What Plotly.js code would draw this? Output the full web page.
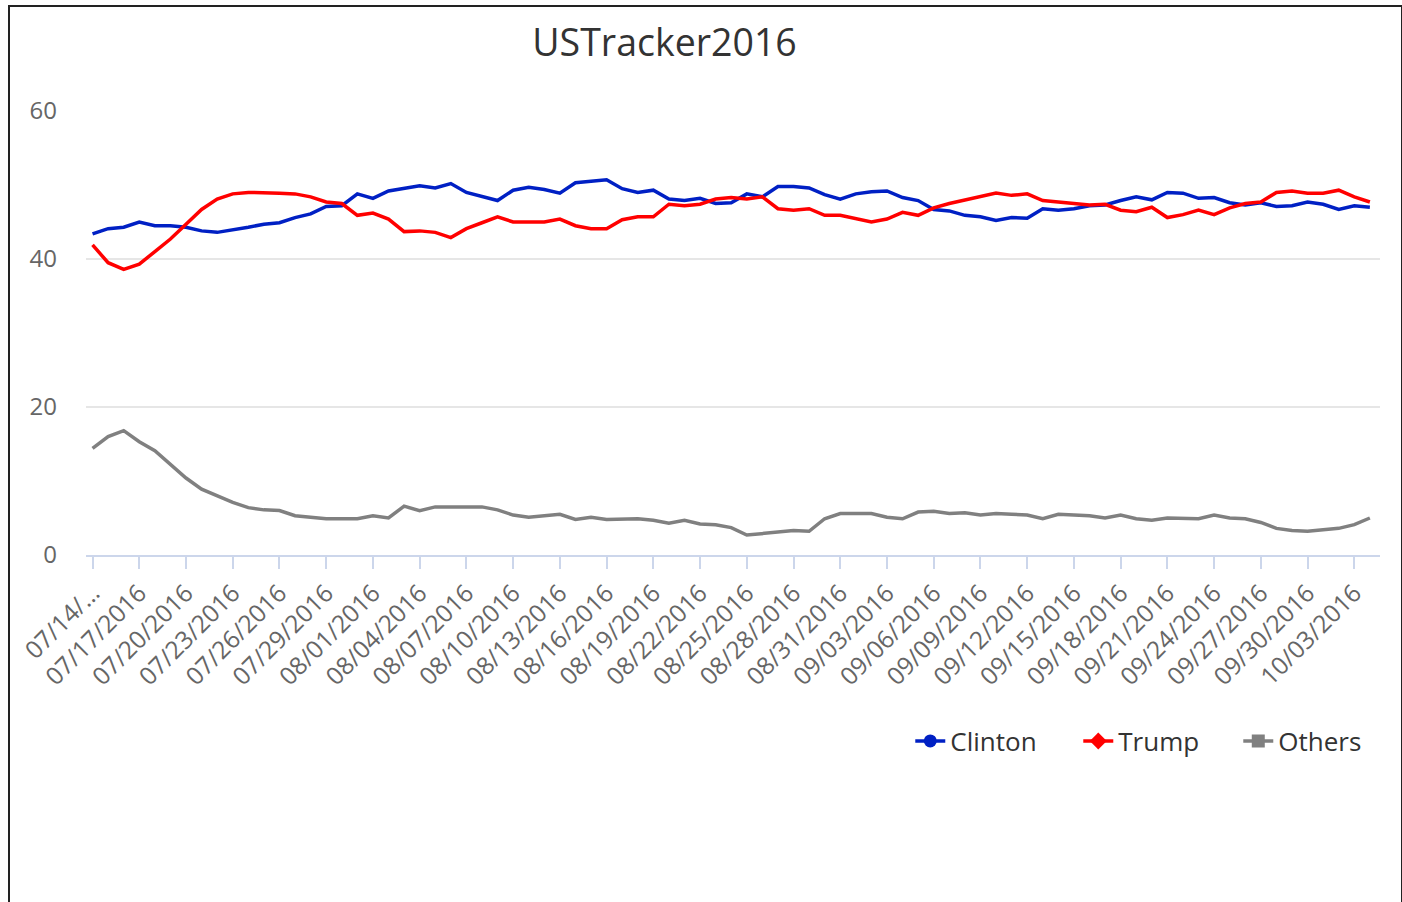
<!DOCTYPE html>
<html>
<head>
<meta charset="utf-8">
<script src="https://cdn.plot.ly/plotly-3.0.1.min.js"></script>
<style>
  html, body { margin: 0; padding: 0; background: #fff; }
  #chart { position: absolute; left: 0; top: 0; width: 1402px; height: 902px; }
  #frame { position: absolute; left: 8px; top: 5px; width: 1391px; height: 900px;
           border-top: 2px solid #222; border-left: 2px solid #222; border-right: 2px solid #222;
           pointer-events: none; }
</style>
</head>
<body>
<div id="chart"></div>
<div id="frame"></div>
<script>
const dates = [
  "07/14/2016","07/15/2016","07/16/2016","07/17/2016","07/18/2016","07/19/2016","07/20/2016","07/21/2016","07/22/2016","07/23/2016",
  "07/24/2016","07/25/2016","07/26/2016","07/27/2016","07/28/2016","07/29/2016","07/30/2016","07/31/2016",
  "08/01/2016","08/02/2016","08/03/2016","08/04/2016","08/05/2016","08/06/2016","08/07/2016","08/08/2016","08/09/2016","08/10/2016",
  "08/11/2016","08/12/2016","08/13/2016","08/14/2016","08/15/2016","08/16/2016","08/17/2016","08/18/2016","08/19/2016","08/20/2016",
  "08/21/2016","08/22/2016","08/23/2016","08/24/2016","08/25/2016","08/26/2016","08/27/2016","08/28/2016","08/29/2016","08/30/2016","08/31/2016",
  "09/01/2016","09/02/2016","09/03/2016","09/04/2016","09/05/2016","09/06/2016","09/07/2016","09/08/2016","09/09/2016","09/10/2016",
  "09/11/2016","09/12/2016","09/13/2016","09/14/2016","09/15/2016","09/16/2016","09/17/2016","09/18/2016","09/19/2016","09/20/2016",
  "09/21/2016","09/22/2016","09/23/2016","09/24/2016","09/25/2016","09/26/2016","09/27/2016","09/28/2016","09/29/2016","09/30/2016",
  "10/01/2016","10/02/2016","10/03/2016","10/04/2016"
];

const clinton = [
  43.4,44.1,44.3,45.0,44.5,44.5,44.3,43.8,43.6,43.9,
  44.3,44.7,44.9,45.6,46.1,47.1,47.2,48.8,48.2,49.2,
  49.5,49.9,49.6,50.2,49.0,48.4,47.9,49.3,49.7,49.4,
  48.9,50.3,50.5,50.7,49.5,49.0,49.3,48.1,47.9,48.2,
  47.5,47.6,48.8,48.4,49.8,49.8,49.6,48.7,48.1,48.8,
  49.1,49.2,48.3,47.9,46.7,46.5,45.9,45.7,45.2,45.6,
  45.5,46.8,46.6,46.8,47.2,47.3,47.9,48.4,48.0,49.0,
  48.9,48.2,48.3,47.6,47.3,47.6,47.1,47.2,47.7,47.4,
  46.7,47.2,47.0
];

const trump = [
  41.9,39.5,38.6,39.3,41.0,42.7,44.7,46.7,48.1,48.8,
  49.0,49.0,48.9,48.8,48.4,47.7,47.5,45.9,46.2,45.4,
  43.7,43.8,43.6,42.9,44.1,44.9,45.7,45.0,45.0,45.0,
  45.4,44.5,44.1,44.1,45.3,45.7,45.7,47.4,47.2,47.4,
  48.1,48.3,48.1,48.4,46.8,46.6,46.8,45.9,45.9,45.4,
  45.0,45.4,46.3,45.9,46.9,47.5,48.0,48.4,48.9,48.6,
  48.8,47.9,47.7,47.6,47.3,47.4,46.6,46.4,47.0,45.6,
  46.0,46.6,46.0,46.9,47.5,47.7,49.0,49.2,48.9,48.9,
  49.3,48.4,47.7
];

const others = [
  14.4,16.0,16.8,15.3,14.1,12.3,10.4,8.9,8.0,7.1,
  6.4,6.1,6.0,5.3,5.1,4.9,4.9,4.9,5.3,5.0,
  6.6,6.0,6.5,6.5,6.6,6.5,6.1,5.4,5.1,5.3,
  5.5,4.8,5.1,4.8,4.8,4.9,4.7,4.3,4.7,4.2,
  4.1,3.7,2.7,2.9,3.2,3.3,3.2,4.9,5.6,5.6,
  5.6,5.1,4.9,5.8,5.9,5.6,5.7,5.4,5.6,5.5,
  5.4,4.9,5.5,5.4,5.3,5.0,5.4,4.9,4.7,5.0,
  4.9,4.9,5.4,5.0,4.9,4.4,3.6,3.3,3.2,3.4,
  3.6,4.1,5.0
];

const seriesNames = ["Clinton", "Trump", "Others"];
const seriesColors = ["#0020c4", "#ff0000", "#808080"];
const seriesSymbols = ["circle", "diamond", "square"];
const legendWidths = [123, 115, 0];

const tickVals = [
  "07/14/2016","07/17/2016","07/20/2016","07/23/2016","07/26/2016","07/29/2016","08/01/2016",
  "08/04/2016","08/07/2016","08/10/2016","08/13/2016","08/16/2016","08/19/2016","08/22/2016",
  "08/25/2016","08/28/2016","08/31/2016","09/03/2016","09/06/2016","09/09/2016","09/12/2016",
  "09/15/2016","09/18/2016","09/21/2016","09/24/2016","09/27/2016","09/30/2016","10/03/2016"
];
const tickText = tickVals.map((d, i) => i === 0 ? "07/14/…" : d);

const yTicks = [0, 20, 40, 60];

const values = [clinton, trump, others];
const traces = [];
values.forEach((v, k) => {
  traces.push({
    x: dates, y: v, type: "scatter", mode: "lines",
    name: seriesNames[k], legendgroup: seriesNames[k], showlegend: false,
    line: { color: seriesColors[k], width: 3.5 },
    hoverinfo: "x+y+name"
  });
});
values.forEach((v, k) => {
  const t = {
    x: [null], y: [null], type: "scatter", mode: "lines+markers",
    name: seriesNames[k], legendgroup: seriesNames[k], showlegend: true,
    line: { color: seriesColors[k], width: 3.5 },
    marker: { color: seriesColors[k], symbol: seriesSymbols[k], size: 13 }
  };
  if (legendWidths[k]) t.legendwidth = legendWidths[k];
  traces.push(t);
});

const layout = {
  width: 1402, height: 902,
  paper_bgcolor: "#ffffff", plot_bgcolor: "#ffffff",
  margin: { l: 86, r: 22, t: 111, b: 347, autoexpand: false },
  font: { family: "Open Sans, sans-serif", color: "#666666" },
  title: {
    text: "USTracker2016",
    font: { family: "Open Sans, sans-serif", size: 37.5, color: "#333333" },
    x: 0.474, xref: "container", xanchor: "center",
    y: 0.952, yref: "container", yanchor: "middle"
  },
  xaxis: {
    type: "category",
    range: [-0.42, 82.65],
    tickmode: "array", tickvals: tickVals, ticktext: tickText,
    tickangle: -45,
    tickfont: { size: 24.5, color: "#666666" },
    ticks: "outside", ticklen: 12, tickwidth: 2, tickcolor: "#ccd6eb",
    showline: true, linecolor: "#ccd6eb", linewidth: 2,
    showgrid: false, zeroline: false, automargin: false
  },
  yaxis: {
    range: [0, 60],
    tickmode: "array", tickvals: yTicks,
    tickfont: { size: 24, color: "#666666" },
    ticklabelstandoff: 28,
    showgrid: true, gridcolor: "#e6e6e6", gridwidth: 1.5,
    showline: false, zeroline: false, ticks: "", automargin: false
  },
  showlegend: true,
  legend: {
    orientation: "h",
    x: 0.637, xanchor: "left",
    y: -0.419, yanchor: "middle",
    font: { family: "Open Sans, sans-serif", size: 26, color: "#333333" },
    bgcolor: "rgba(0,0,0,0)"
  },
  hovermode: "closest"
};

Plotly.newPlot("chart", traces, layout, { displayModeBar: false });
</script>
</body>
</html>
